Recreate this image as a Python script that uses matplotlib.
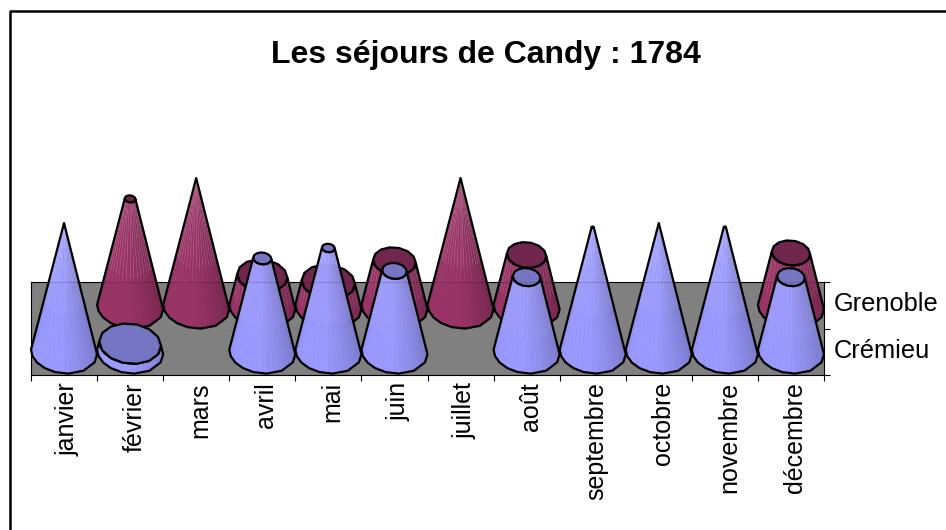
import numpy as np
import matplotlib
matplotlib.use("Agg")
from matplotlib import pyplot as plt
from matplotlib.lines import Line2D
from matplotlib.patches import Polygon

plt.rcParams['font.family'] = ['Liberation Sans', 'DejaVu Sans']

months = ["janvier", "février", "mars", "avril", "mai", "juin", "juillet",
          "août", "septembre", "octobre", "novembre", "décembre"]
series_names = ["Crémieu", "Grenoble"]
cremieu = [31, 2, 0, 22.5, 25, 19.5, 0, 18, 30, 31, 30, 18]
grenoble = [0, 26, 31, 7.5, 6, 11, 31, 12.5, 0, 0, 0, 13]
title = "Les séjours de Candy : 1784"

W, H = 946, 530
PX_X = 66.1      # one month
PX_Y = 4.16      # one day
MAX_DAYS = 31
R = 0.5          # base radius in months
RY = 21.5 / PX_Y  # base half height in days
SHEAR = -0.07


def face_colour(t, base, dark):
    # t from pi (left) to 2 pi (right)
    u = (t - np.pi) / np.pi
    if u < 0.12:
        f = 0.3 * (0.12 - u) / 0.12
    elif u < 0.45:
        f = 0.0
    else:
        f = (u - 0.45) / 0.55
    return tuple(np.array(base) * (1 - f) + np.array(dark) * f)


def ring(cx, cy, r, t):
    x = cx + r * np.cos(t)
    y = cy + r / R * (RY * np.sin(t) + SHEAR * PX_X / PX_Y * R * np.cos(t))
    return x, y


def draw_cone(ax, cx, y0, value, base, dark, top_col, z):
    top_r = R * (1 - value / MAX_DAYS)
    y1 = y0 + value
    fine = np.linspace(np.pi, 2 * np.pi, 19)
    for t0, t1 in zip(fine[:-1], fine[1:]):
        tt = np.array([t0, t1])
        xb, yb = ring(cx, y0, R, tt)
        xt, yt = ring(cx, y1, top_r, tt)
        pts = [(xb[0], yb[0]), (xb[1], yb[1]), (xt[1], yt[1]), (xt[0], yt[0])]
        col = face_colour(t0, base, dark)
        ax.add_patch(Polygon(pts, closed=True, facecolor=col, edgecolor=col,
                             linewidth=0.3, clip_on=False, zorder=z))
    # pale streaks on the upper part of the facets
    for t in fine[1:-1]:
        xb, yb = ring(cx, y0, R, t)
        xt, yt = ring(cx, y1, top_r, t)
        ax.plot([xb + 0.4 * (xt - xb), xt], [yb + 0.4 * (yt - yb), yt], color='white',
                linewidth=0.6, alpha=0.13, clip_on=False, zorder=z + 0.05)
    # coarse outline, the base is a polygon in the original
    coarse = np.pi + np.array([0, 0.3, 0.62, 0.95, 1.3, 1.7, 2.2, 2.75, 3.1416])
    xb, yb = ring(cx, y0, R, coarse)
    xt, yt = ring(cx, y1, top_r, coarse[::-1])
    ax.add_patch(Polygon(np.column_stack([np.r_[xb, xt], np.r_[yb, yt]]), closed=True,
                         facecolor='none', edgecolor='black', linewidth=1.6,
                         joinstyle='round', clip_on=False, zorder=z + 0.1))
    if top_r > 0.01:
        circle = np.linspace(0, 2 * np.pi, 15)
        xc, yc = ring(cx, y1, top_r, circle)
        ax.add_patch(Polygon(np.column_stack([xc, yc]), closed=True, facecolor=top_col,
                             edgecolor='black', linewidth=1.6, joinstyle='round',
                             clip_on=False, zorder=z + 0.2))


fig = plt.figure(figsize=(W / 100, H / 100), dpi=100)
# only the top and left of the frame are inside the picture
fig.add_artist(Line2D([10 / W, 10 / W, 1], [0, 1 - 11 / H, 1 - 11 / H], color='black',
                      linewidth=1.8, transform=fig.transFigure, zorder=-1))

# wall rectangle in pixels
left, right, top, bottom = 31, 824, 282, 375
ax = fig.add_axes([left / W, 1 - bottom / H, (right - left) / W, (bottom - top) / H])
y_zero = 352
ax.set_xlim(0, len(months))
ax.set_ylim((y_zero - bottom) / PX_Y, (y_zero - top) / PX_Y)
ax.set_facecolor('#808080')
for side in ax.spines.values():
    side.set_linewidth(0.8)
    side.set_color('black')

ax.set_xticks(np.arange(len(months) + 1))
ax.set_xticklabels([])
ax.tick_params(axis='x', length=4.5, width=0.8)
ax.set_yticks([ax.get_ylim()[0], (ax.get_ylim()[0] + ax.get_ylim()[1]) / 2, ax.get_ylim()[1]])
ax.set_yticklabels([])
ax.yaxis.tick_right()
ax.tick_params(axis='y', length=4.5, width=0.8)

series_gap = 45 / PX_Y
y_base = {"Crémieu": 0, "Grenoble": series_gap}
blue = ((0.60, 0.60, 1.0), (0.46, 0.46, 0.76), (0.46, 0.46, 0.77))
maroon = ((0.60, 0.20, 0.40), (0.44, 0.14, 0.29), (0.44, 0.15, 0.30))

for i, v in enumerate(grenoble):
    if v > 0:
        draw_cone(ax, i + 0.5, y_base["Grenoble"], v, *maroon, 3 + i)
for i, v in enumerate(cremieu):
    if v > 0:
        draw_cone(ax, i + 0.5, y_base["Crémieu"], v, *blue, 20 + i)

# the wall edge shows faintly through the cones
ax.axhline(ax.get_ylim()[1], color='black', linewidth=1.5, alpha=0.15, zorder=40)

for i, m in enumerate(months):
    ax.annotate(m, (i + 0.5, 0), xycoords=('data', 'axes fraction'), xytext=(4, -7),
                textcoords='offset pixels', rotation=90, ha='center', va='top',
                fontsize=18, annotation_clip=False)

for name, yy in zip(series_names, [0.25, 0.75]):
    ax.annotate(name, (1, yy), xycoords='axes fraction', xytext=(10, 1),
                textcoords='offset pixels', ha='left', va='center', fontsize=18.3)

fig.text(485.5 / W, 1 - 55 / H, title, ha='center', va='center', fontsize=23, fontweight='bold')

fig.savefig("out.png", dpi=100)
